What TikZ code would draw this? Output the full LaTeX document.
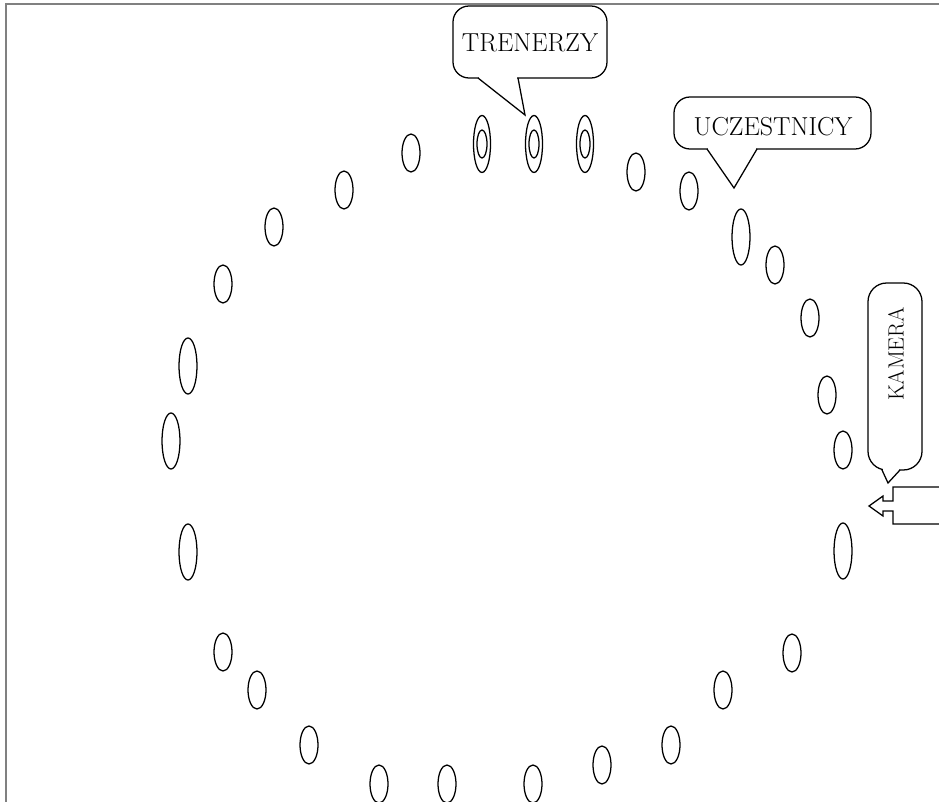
\documentclass[tikz,border=0pt]{standalone}
\begin{document}
\begin{tikzpicture}[x=0.75pt,y=-0.75pt,line width=0.95pt,
  lbl/.style={font=\fontsize{19.5}{22}\selectfont},
  bubble/.style={draw,rounded corners=12},
  gap/.style={fill=white},
  frameline/.style={draw=black!50,line width=1.4pt}]
\clip (0,0) rectangle (939,802);
\fill[white] (0,0) rectangle (939,802);
\draw[frameline] (6,802) -- (6,4) -- (939,4);
% single seats
\foreach \x/\y in {411/153,344/190,274/227,223/284,223/652,257/690,309/745,379/784,447/784,533/784,602/765,671/745,723/690,792/653,843/450,827/395,810/318,775/265,689/191,636/172}
  \draw (\x,\y) ellipse [x radius=9,y radius=19];
% tall seats
\foreach \x/\y in {188/366,171/441,188/552,843/551,741/237}
  \draw (\x,\y) ellipse [x radius=9,y radius=28];
% trainers (double)
\foreach \x in {482,534,585}{
  \draw (\x,144) ellipse [x radius=8.5,y radius=28.5];
  \draw (\x,144) ellipse [x radius=5,y radius=14];
}
% callout TRENERZY
\path[bubble] (453,6) rectangle (607,78);
\fill[gap] (479,76.2) rectangle (517,79.8);
\draw (478,78) -- (525,115) -- (518,78);
\node[lbl] (tr) at (530,43) {TRENERZY};
% callout UCZESTNICY
\path[bubble] (674,97) rectangle (871,149);
\fill[gap] (708,147.2) rectangle (756,150.8);
\draw (707,149) -- (734,188) -- (757,149);
\node[lbl] (uc) at (773,127) {UCZESTNICY};
% callout KAMERA
\path[bubble,rounded corners=14] (868,283) rectangle (922,470);
\fill[gap] (883,468.2) rectangle (899,471.8);
\draw (882,470) -- (888,483) -- (900,470);
\node[font=\fontsize{16.5}{19}\selectfont,rotate=90] (ka) at (896,354) {KAMERA};
% camera
\draw (893,501) -- (893,487) -- (950,487) -- (950,524) -- (893,524) -- (893,511) -- (883,511) -- (883,516) -- (869,506) -- (883,496) -- (883,501) -- cycle;
\end{tikzpicture}
\end{document}
